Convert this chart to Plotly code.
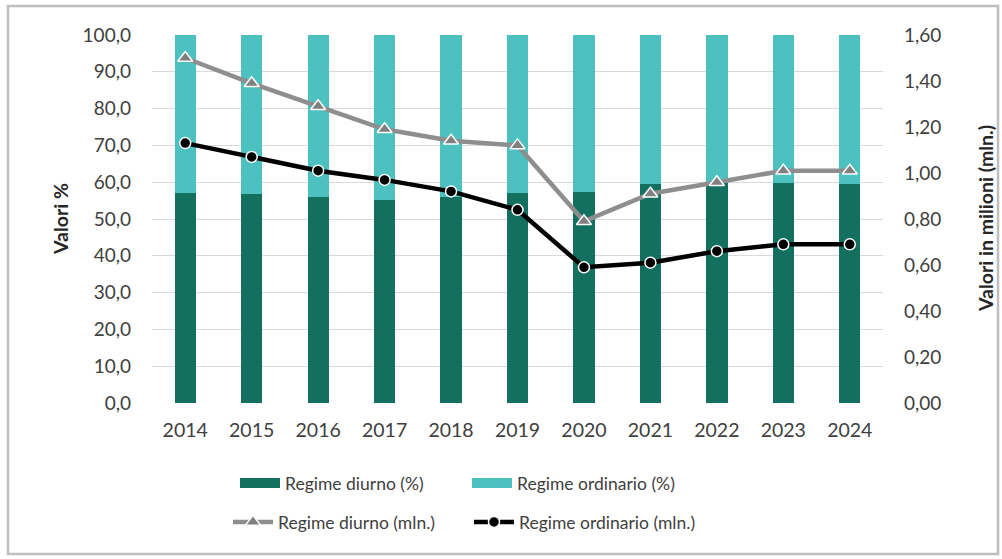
import plotly.graph_objects as go

anni = ["2014", "2015", "2016", "2017", "2018", "2019", "2020", "2021", "2022", "2023", "2024"]
diurno_pct = [57.1, 56.8, 56.1, 55.1, 55.9, 57.1, 57.4, 59.5, 59.8, 59.9, 59.5]
ordinario_pct = [42.9, 43.2, 43.9, 44.9, 44.1, 42.9, 42.6, 40.5, 40.2, 40.1, 40.5]
diurno_mln = [1.50, 1.39, 1.29, 1.19, 1.14, 1.12, 0.79, 0.91, 0.96, 1.01, 1.01]
ordinario_mln = [1.13, 1.07, 1.01, 0.97, 0.92, 0.84, 0.59, 0.61, 0.66, 0.69, 0.69]
left_ticks = [0, 10, 20, 30, 40, 50, 60, 70, 80, 90, 100]
right_ticks = [0, 0.2, 0.4, 0.6, 0.8, 1.0, 1.2, 1.4, 1.6]

FONT = "Lato"
TXT = "#404040"
DARK = "#13705F"
LIGHT = "#4DC0C0"

fig = go.Figure()
fig.add_trace(go.Bar(x=anni, y=diurno_pct, name="Regime diurno (%)", showlegend=False,
                     marker=dict(color=DARK, line=dict(width=0))))
fig.add_trace(go.Bar(x=anni, y=ordinario_pct, name="Regime ordinario (%)", showlegend=False,
                     marker=dict(color=LIGHT, line=dict(width=0))))
# legend-only entries drawn as wide rectangles
fig.add_trace(go.Scatter(x=[None], y=[None], mode="lines", name="Regime diurno (%)",
                         line=dict(color=DARK, width=14), legend="legend"))
fig.add_trace(go.Scatter(x=[None], y=[None], mode="lines", name="Regime ordinario (%)",
                         line=dict(color=LIGHT, width=14), legend="legend"))
fig.add_trace(go.Scatter(x=anni, y=diurno_mln, name="Regime diurno (mln.)", yaxis="y2",
                         mode="lines+markers",
                         line=dict(color="#8E8E8E", width=4.5),
                         marker=dict(symbol="triangle-up", size=13, color="#7F7F7F",
                                     line=dict(color="white", width=1.5)),
                         legend="legend2"))
fig.add_trace(go.Scatter(x=anni, y=ordinario_mln, name="Regime ordinario (mln.)", yaxis="y2",
                         mode="lines+markers",
                         line=dict(color="#000000", width=4.5),
                         marker=dict(symbol="circle", size=11, color="#000000",
                                     line=dict(color="white", width=1.5)),
                         legend="legend2"))

fig.update_layout(
    width=1002, height=559,
    margin=dict(l=152, r=119, t=35, b=156),
    paper_bgcolor="white", plot_bgcolor="white",
    separators=",.",
    barmode="stack", bargap=0.68,
    font=dict(family=FONT, size=17, color=TXT),
    xaxis=dict(type="category", range=[-0.5, len(anni) - 0.5], showgrid=False,
               showline=False, ticks="", ticklabelstandoff=13,
               tickfont=dict(size=19.5, color=TXT)),
    yaxis=dict(range=[0, 100], tickvals=left_ticks, tickformat=".1f",
               showgrid=True, gridcolor="#D9D9D9", gridwidth=1.2, zeroline=False,
               showline=False, ticks="", ticklabelstandoff=20,
               tickfont=dict(size=19, color=TXT)),
    yaxis2=dict(range=[0, 1.6], tickvals=right_ticks, tickformat=".2f",
                overlaying="y", side="right", showgrid=False, zeroline=False,
                showline=False, ticks="", ticklabelstandoff=20,
                tickfont=dict(size=19, color=TXT)),
    legend=dict(orientation="h", x=(235 - 152) / 731, xanchor="left",
                y=-80 / 368, yanchor="middle",
                font=dict(size=17.5, color=TXT), entrywidth=177, itemwidth=40,
                bgcolor="rgba(0,0,0,0)", traceorder="normal"),
    legend2=dict(orientation="h", x=(228 - 152) / 731, xanchor="left",
                 y=-119 / 368, yanchor="middle",
                 font=dict(size=17.5, color=TXT), entrywidth=186, itemwidth=40,
                 bgcolor="rgba(0,0,0,0)", traceorder="normal"),
    showlegend=True,
)

fig.add_annotation(text="<b>Valori %</b>", xref="paper", yref="paper",
                   x=(60 - 152) / 731, y=0.5, xanchor="center", yanchor="middle",
                   textangle=-90, showarrow=False, font=dict(size=19.5, color="#262626"))
fig.add_annotation(text="<b>Valori in milioni (mln.)</b>", xref="paper", yref="paper",
                   x=(985 - 152) / 731, y=0.5, xanchor="center", yanchor="middle",
                   textangle=-90, showarrow=False, font=dict(size=19.5, color="#262626"))

fig.add_shape(type="rect", xref="paper", yref="paper",
              x0=(8 - 152) / 731, x1=(998 - 152) / 731, y0=(403 - 554) / 368, y1=(403 - 6) / 368,
              line=dict(color="#BFBFBF", width=2.5), fillcolor="rgba(0,0,0,0)", layer="below")

fig.write_html("out.html", config={"displayModeBar": False},
               post_script="document.body.style.margin='0';")
